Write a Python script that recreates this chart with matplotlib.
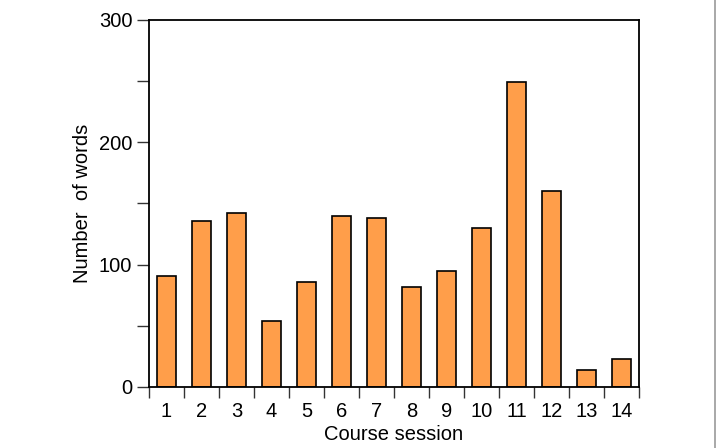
import numpy as np
import matplotlib.pyplot as plt
from matplotlib.lines import Line2D

plt.rcParams['font.family'] = ['Liberation Sans', 'DejaVu Sans']

# words per course session
sessions = list(range(1, 15))
words = [91, 136, 142, 54, 86, 140, 138, 82, 95, 130, 249, 160, 14, 23]

fig = plt.figure(figsize=(7.18, 4.48), dpi=100)
ax = fig.add_axes([0.2075, 0.1362, 0.6825, 0.8192])

ax.bar(sessions, words, width=0.54, color='#FF9E4A', edgecolor='black', linewidth=1.2)

ax.set_xlim(0.5, 14.5)
ax.set_ylim(0, 300)

# labels centred on bars, tick marks at the bar boundaries
ax.set_xticks(sessions)
ax.set_xticklabels([str(s) for s in sessions], fontsize=14.5)
ax.tick_params(axis='x', which='major', length=0, pad=11)
ax.set_xticks(np.arange(0.5, 15, 1), minor=True)
ax.tick_params(axis='x', which='minor', length=8, width=1, color='#333333', direction='out')

ax.set_yticks([0, 100, 200, 300])
ax.set_yticks([50, 150, 250], minor=True)
ax.tick_params(axis='y', which='both', length=9, width=1, color='#333333', direction='out',
               labelsize=14.5, pad=3)

for s in ax.spines.values():
    s.set_linewidth(1.3)

ax.set_xlabel('Course session', fontsize=14.5, labelpad=3)
ax.set_ylabel('Number  of words', fontsize=14.5, labelpad=5)

# thin grey border at the right edge of the image
fig.add_artist(Line2D([0.9965, 0.9965], [0, 1], color='#999999', linewidth=1.2))

fig.savefig('out.png', dpi=100)
